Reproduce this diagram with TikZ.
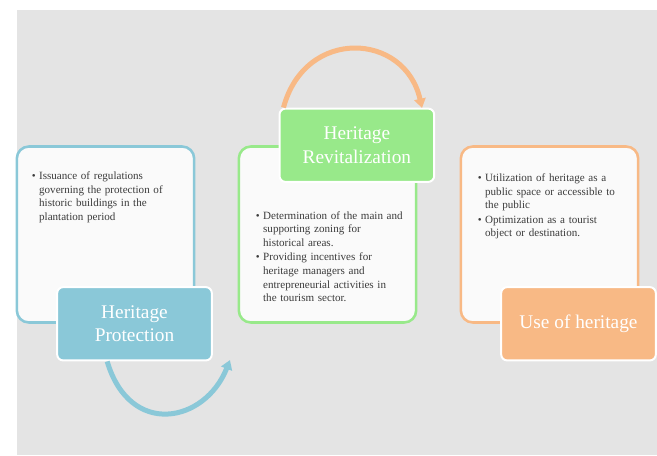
\documentclass[tikz,border=0pt]{standalone}
\usepackage{fontspec}
\setmainfont{Liberation Serif}
\usetikzlibrary{arrows.meta,positioning}

\definecolor{bgGray}{RGB}{228,228,228}
\definecolor{protBlue}{RGB}{138,200,216}
\definecolor{revGreen}{RGB}{152,233,138}
\definecolor{useOrange}{RGB}{248,185,133}
\definecolor{txtGray}{RGB}{60,60,60}

\newcommand{\bitem}[1]{\par\noindent\makebox[5.5pt][l]{\textbullet}\parbox[t]{108pt}{\raggedright #1\strut}\par\vskip 1pt}

\begin{document}
\begin{tikzpicture}[x=0.75pt, y=-0.75pt, >={Triangle[length=7pt,width=8.5pt]}, node distance=166.5pt,
    box/.style={draw, line width=1.9pt, fill=white!98!black, rounded corners=9pt,
                minimum width=133pt, minimum height=132pt},
    lab/.style={draw=white, line width=1.5pt, rounded corners=4.5pt, minimum width=116pt,
                minimum height=55pt, text=white, align=center,
                font=\fontsize{14.5}{17.5}\selectfont},
    bullets/.style={anchor=north west, inner sep=0pt, text=txtGray, text width=114pt, align=left,
                font=\fontsize{8.3}{10.2}\selectfont},
    cycarrow/.style={->, line width=3.75pt}]

    % Background
    \useasboundingbox (0,0) rectangle (657,455);
    \fill [bgGray] (17,10) rectangle (657,455);

    % Boxes {protection, revitalization, use}
    \node [box, draw=protBlue]  (protbox) at (105.5,234.5)     {};
    \node [box, draw=revGreen]  (revbox)  [right of=protbox]   {};
    \node [box, draw=useOrange] (usebox)  [right of=revbox]    {};

    % Texts
    \node [bullets] (prottxt) at ([xshift=12pt,yshift=-15.5pt]protbox.north west)
        {\bitem{Issuance of regulations\\ governing the protection of\\ historic buildings in the\\ plantation period}};
    \node [bullets] (revtxt)  at ([xshift=13.5pt,yshift=-45pt]revbox.north west)
        {\bitem{Determination of the main and\\ supporting zoning for\\ historical areas.}
         \bitem{Providing incentives for\\ heritage managers and\\ entrepreneurial activities in\\ the tourism sector.}};
    \node [bullets] (usetxt)  at ([xshift=13.5pt,yshift=-17pt]usebox.north west)
        {\bitem{Utilization of heritage as a\\ public space or accessible to\\ the public}
         \bitem{Optimization as a tourist\\ object or destination.}};

    % Labels
    \node [lab, fill=protBlue]  (protlab) at ([xshift=21.75pt]protbox.south) {Heritage\\Protection};
    \node [lab, fill=revGreen]  (revlab)  at ([xshift=22pt]revbox.north)     {Heritage\\Revitalization};
    \node [lab, fill=useOrange] (uselab)  at ([xshift=21.75pt]usebox.south)  {Use of heritage};

    % Arrows
    \coordinate (revin) at (230,360);
    \coordinate (usein) at (422,108);
    \draw [cycarrow, protBlue]  ([xshift=-20.5pt]protlab.south) .. controls (130,438) and (205,423) .. (revin);
    \draw [cycarrow, useOrange] ([xshift=-55pt]revlab.north) .. controls (305,27) and (405,32) .. (usein);

\end{tikzpicture}
\end{document}
